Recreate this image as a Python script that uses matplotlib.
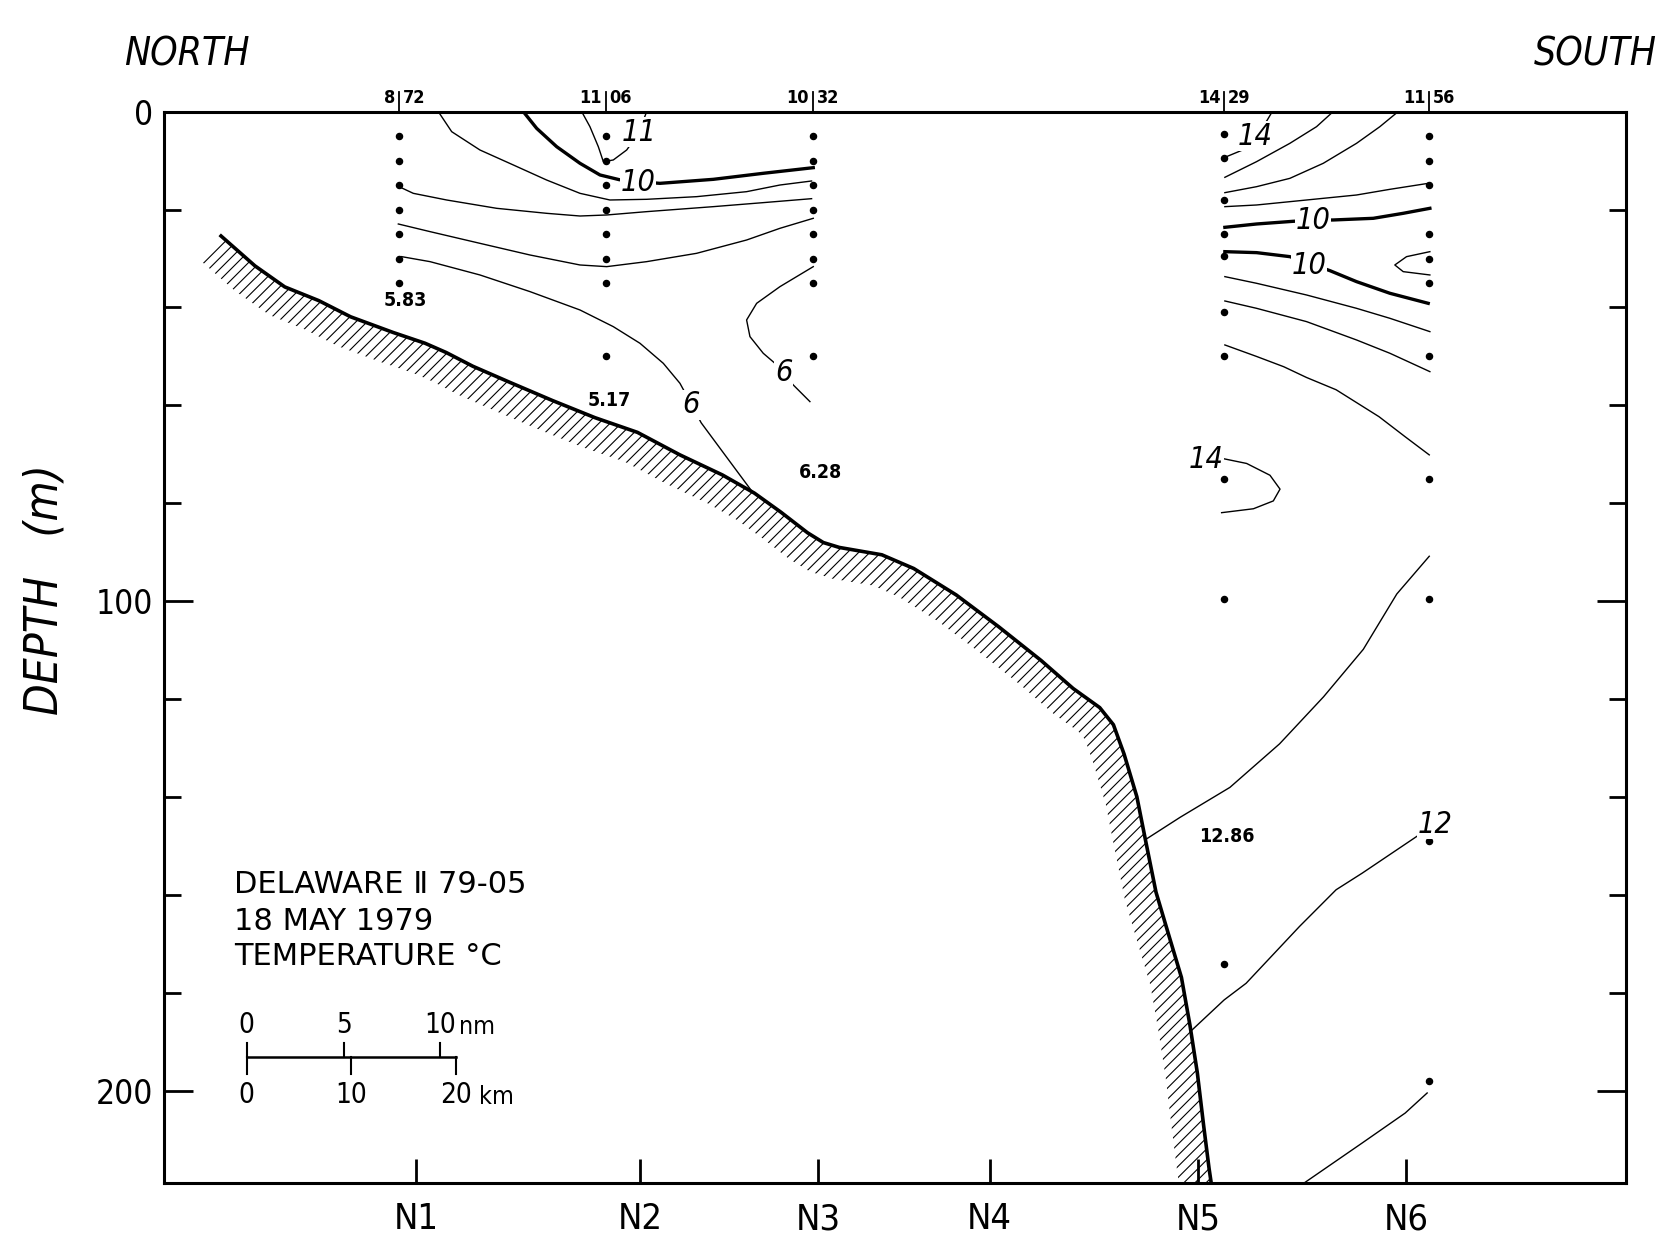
import numpy as np
import matplotlib
matplotlib.use("Agg")
import matplotlib.pyplot as plt
from matplotlib.patches import Polygon

plt.rcParams['hatch.linewidth'] = 0.8
NARROW = dict(fontfamily=['DejaVu Sans'], fontstretch='condensed')

# ---------------- data (distance km along section, depth m) ----------------
station_km = [22.45, 42.2, 62.0, 101.3, 120.9]
surface_temp = ['8.72', '11.06', '10.32', '14.29', '11.56']
station_depths = [
    [5, 10, 15, 20, 25, 30, 35],
    [5, 10, 15, 20, 25, 30, 35, 50],
    [5, 10, 15, 20, 25, 30, 35, 50],
    [4.5, 9.5, 18, 25, 29.5, 41, 50, 75, 99.5, 174],
    [5, 10, 15, 25, 30, 35, 50, 75, 99.5, 149, 198],
]
bottom_temp = ['5.83', '5.17', '6.28', '12.86']
bottom_temp_km = [23.1, 42.5, 62.7, 101.6]
bottom_temp_depth = [38.6, 59.0, 73.7, 148.1]

stations = ['N1', 'N2', 'N3', 'N4', 'N5', 'N6']
stations_km = [24.1, 45.5, 62.5, 78.9, 98.8, 118.7]

topo_km = [5.45, 8.69, 11.54, 14.79, 17.83, 21.89, 24.94, 26.97, 29.51, 33.06,
           37.12, 41.18, 45.24, 49.30, 53.36, 56.41, 58.95, 61.49, 63.0, 64.53, 68.59,
           71.64, 75.70, 79.76, 83.82, 86.87, 89.41, 90.72, 91.74, 92.96, 93.77,
           94.79, 96.00, 97.22, 98.03, 98.74, 99.35, 99.86, 100.06]
topo_depth = [25.4, 31.5, 35.8, 38.6, 41.9, 45.1, 47.3, 49.2, 52.0, 55.3,
              59.0, 62.5, 65.5, 70.1, 74.2, 77.9, 81.8, 86.0, 88.0, 89.0, 90.5,
              93.3, 98.7, 105.2, 112.1, 117.8, 121.7, 125.2, 131.2, 139.9, 148.6,
              159.4, 168.1, 176.8, 186.5, 196.3, 207.2, 215.8, 218.7]

# isotherms (km, depth)
iso_11 = [(39.91, 0), (40.70, 3.08), (41.50, 7.16), (41.98, 10.22), (42.93, 9.88),
          (44.21, 7.84), (45.0, 5.5), (45.6, 3.0), (46.12, 0)]
iso_10_north = [(34.33, 0), (35.61, 3.42), (37.52, 7.16), (39.75, 10.56), (41.66, 12.94),
                (43.5, 13.9), (45.3, 14.3), (47.39, 14.65), (52.49, 13.83), (57.26, 12.60),
                (62.04, 11.45)]
iso_n_a = [(26.21, 0), (27.49, 4.10), (30.19, 7.84), (33.38, 10.90), (36.56, 13.97),
           (39.75, 16.69), (42.61, 18.05), (46.12, 17.91), (50.89, 17.37), (55.67, 16.35),
           (58.86, 14.99), (61.88, 14.17)]
iso_n_b = [(22.46, 15.33), (23.82, 16.69), (27.01, 18.05), (31.79, 19.75), (36.56, 20.77),
           (39.75, 21.32), (42.30, 21.11), (46.12, 20.43), (52.49, 19.41), (57.26, 18.59),
           (61.88, 17.78)]
iso_n_c = [(22.39, 22.95), (25.42, 24.51), (30.19, 26.90), (34.97, 29.28), (39.75, 31.32),
           (42.30, 31.66), (46.12, 30.64), (50.89, 28.94), (55.67, 26.22), (58.86, 23.83),
           (62.04, 21.79)]
iso_6_a = [(22.71, 29.62), (25.42, 30.64), (30.19, 33.36), (34.97, 36.76), (39.75, 40.51),
           (42.93, 43.91), (45.48, 47.31), (47.71, 51.40), (49.30, 55.48), (50.4, 59.8),
           (51.33, 63.55), (53.36, 69.41), (56.2, 77.6)]
iso_6_b = [(62.04, 31.66), (58.86, 35.74), (56.63, 39.15), (55.67, 42.55), (55.99, 45.95),
           (57.26, 49.35), (58.38, 51.40), (59.2, 53.4), (60.13, 55.82), (61.72, 59.22)]
iso_14_top = [(105.9, 0), (105.4, 1.8), (104.3, 5.0), (103.0, 7.9), (101.3, 9.4)]
iso_s_a = [(111.72, 0), (110.13, 3.08), (107.58, 6.48), (104.4, 10.22), (101.37, 13.42)]
iso_s_b = [(117.93, 0), (116.18, 3.08), (113.95, 6.48), (110.77, 10.56), (107.58, 13.63),
           (104.40, 15.33), (101.37, 16.55)]
iso_s_c = [(101.37, 19.41), (104.40, 19.07), (109.18, 18.05), (113.95, 17.03),
           (117.14, 15.87), (120.80, 14.65)]
iso_10_south_a = [(101.37, 23.63), (104.40, 22.95), (107.9, 22.4), (109.8, 22.2),
                  (111.72, 22.13), (115.55, 21.79), (118.41, 20.77), (120.96, 19.75)]
iso_10_south_b = [(101.37, 28.6), (104.40, 28.8), (107.58, 29.62), (109.5, 31.0),
                  (111.41, 32.48), (113.95, 34.72), (117.14, 37.1), (120.80, 39.15)]
iso_s_hook = [(120.96, 28.6), (118.73, 29.62), (117.61, 31.32), (118.41, 32.68), (120.96, 33.36)]
iso_s_d = [(101.37, 33.7), (104.40, 35.06), (109.18, 37.45), (113.95, 40.17),
           (117.14, 42.21), (120.96, 44.93)]
iso_s_e = [(101.37, 38.67), (104.40, 40.17), (109.18, 42.89), (113.95, 46.63),
           (117.14, 49.35), (120.96, 53.1)]
iso_s_f = [(101.37, 47.65), (104.40, 50.0), (107.0, 52.1), (109.18, 54.3), (112.0, 56.8),
           (116.1, 62.3), (118.6, 66.4), (120.9, 70.1)]
iso_14_loop = [(101.06, 70.8), (103.45, 71.85), (105.68, 74.26), (106.64, 77.09),
               (106.0, 79.5), (104.1, 81.1), (101.06, 81.9)]
iso_s_g = [(120.9, 90.8), (117.8, 98.5), (114.6, 109.8), (110.8, 119.5), (106.6, 129.1),
           (101.85, 138.0), (97.1, 144.1), (93.75, 148.7)]
iso_12 = [(120.2, 147.3), (114.5, 155.5), (112.0, 158.9), (108.5, 166.4), (103.4, 178.0),
          (101.3, 181.4), (98.2, 187.6)]
iso_s_bottom = [(120.7, 200.4), (118.6, 204.5), (114.5, 210.6), (109.0, 218.7)]

thin_isotherms = [iso_11, iso_n_a, iso_n_b, iso_n_c, iso_6_a, iso_6_b, iso_14_top,
                  iso_s_a, iso_s_b, iso_s_c, iso_s_hook, iso_s_d, iso_s_e, iso_s_f,
                  iso_14_loop, iso_s_g, iso_12, iso_s_bottom]
thick_isotherms = [iso_10_north, iso_10_south_a, iso_10_south_b]

iso_labels = ['11', '10', '6', '6', '14', '10', '10', '14', '12']
iso_label_km = [45.4, 45.3, 50.4, 59.2, 104.3, 109.8, 109.4, 99.6, 121.5]
iso_label_depth = [4.2, 14.4, 59.9, 53.2, 5.0, 22.2, 31.4, 71.0, 145.5]

scale_nm = [0, 5, 10]
scale_km = [0, 10, 20]
KM_PER_NM = 1.852

# ---------------- figure ----------------
W, H = 1666, 1235
fig = plt.figure(figsize=(W / 100, H / 100), dpi=100)
L, R, T, B = 164, 1626, 111.6, 1182.6
ax = fig.add_axes([L / W, 1 - B / H, (R - L) / W, (B - T) / H])
ax.set_xlim(0, 139.7)
ax.set_ylim(218.7, 0)

for s in ax.spines.values():
    s.set_linewidth(2.2)

ax.set_yticks([0, 100, 200])
ax.set_yticklabels(['0', '100', '200'], fontsize=24, **NARROW)
ax.set_yticks(np.arange(20, 220, 20), minor=True)
ax.tick_params(axis='y', which='both', direction='in', left=True, right=True, width=2)
ax.tick_params(axis='y', which='major', length=21, pad=8)
ax.tick_params(axis='y', which='minor', length=12)
ax.set_xticks(stations_km)
ax.set_xticklabels(stations, fontsize=26, **NARROW)
ax.tick_params(axis='x', direction='in', length=17, width=2, pad=14, top=False)

# bottom topography with hatched band
line_xy = np.column_stack([topo_km, topo_depth])
ax.plot(topo_km, topo_depth, color='black', lw=2.6, zorder=4, solid_joinstyle='round')
pts = ax.transData.transform(line_xy)
tang = np.gradient(pts, axis=0)
tang /= np.linalg.norm(tang, axis=1)[:, None]
norm = np.column_stack([tang[:, 1], -tang[:, 0]])
off = ax.transData.inverted().transform(pts + 32 * norm)
band = np.vstack([line_xy, off[::-1]])
ax.add_patch(Polygon(band, closed=True, facecolor='none', edgecolor='black',
                     lw=0, hatch='///', zorder=3))

# isotherms
for c in thin_isotherms:
    a = np.array(c)
    ax.plot(a[:, 0], a[:, 1], color='black', lw=1.0, zorder=5)
for c in thick_isotherms:
    a = np.array(c)
    ax.plot(a[:, 0], a[:, 1], color='black', lw=2.4, zorder=5)

for t, x, y in zip(iso_labels, iso_label_km, iso_label_depth):
    ax.text(x, y, t, fontsize=22, style='italic', ha='center', va='center', zorder=7,
            bbox=dict(facecolor='white', edgecolor='none', pad=0.5), **NARROW)

# station sample dots
for x, ds in zip(station_km, station_depths):
    ax.plot([x] * len(ds), ds, 'o', color='black', ms=4.4, zorder=6)

# surface temperatures above the section
for x, t in zip(station_km, surface_temp):
    a, b = t.split('.')
    ax.text(x - 0.35, 1.004, a, transform=ax.get_xaxis_transform(), ha='right',
            va='bottom', fontsize=13, fontweight='bold', **NARROW)
    ax.text(x + 0.35, 1.004, b, transform=ax.get_xaxis_transform(), ha='left',
            va='bottom', fontsize=13, fontweight='bold', **NARROW)
    ax.plot([x, x], [1.0, 1.018], transform=ax.get_xaxis_transform(), color='black',
            lw=1.3, clip_on=False)

# bottom temperatures
for t, x, y in zip(bottom_temp, bottom_temp_km, bottom_temp_depth):
    ax.text(x, y, t, fontsize=14, fontweight='bold', ha='center', va='center',
            zorder=7, **NARROW)

# title block
for txt, d in zip(['DELAWARE Ⅱ 79-05', '18 MAY 1979', 'TEMPERATURE °C'],
                  [157.9, 165.4, 172.6]):
    ax.text(6.66, d, txt, fontsize=22, ha='left', va='center', fontfamily=['DejaVu Sans'])

# scale bar
x0, ybar = 7.9, 193.1
ax.plot([x0, x0 + scale_km[-1]], [ybar, ybar], color='black', lw=1.8)
for v in scale_nm:
    xv = x0 + v * KM_PER_NM
    ax.plot([xv, xv], [ybar, ybar - 3.0], color='black', lw=1.5)
    ax.text(xv, 186.6, str(v), fontsize=20, ha='center', va='center', **NARROW)
ax.text(x0 + scale_nm[-1] * KM_PER_NM + 1.8, 187.0, 'nm', fontsize=18, ha='left',
        va='center', **NARROW)
for v in scale_km:
    xv = x0 + v
    ax.plot([xv, xv], [ybar, ybar + 3.4], color='black', lw=1.5)
    ax.text(xv, 200.9, str(v), fontsize=20, ha='center', va='center', **NARROW)
ax.text(x0 + scale_km[-1] + 2.2, 201.2, 'km', fontsize=18, ha='left', va='center',
        **NARROW)

# direction labels and axis title
fig.text(124 / W, 1 - 55 / H, 'NORTH', fontsize=28, style='italic', ha='left',
         va='center', **NARROW)
fig.text(1657 / W, 1 - 55 / H, 'SOUTH', fontsize=28, style='italic', ha='right',
         va='center', **NARROW)
fig.text(45 / W, 1 - 590 / H, 'DEPTH   (m)', fontsize=33, style='italic',
         rotation=90, ha='center', va='center', **NARROW)

fig.savefig('out.png', dpi=100)
